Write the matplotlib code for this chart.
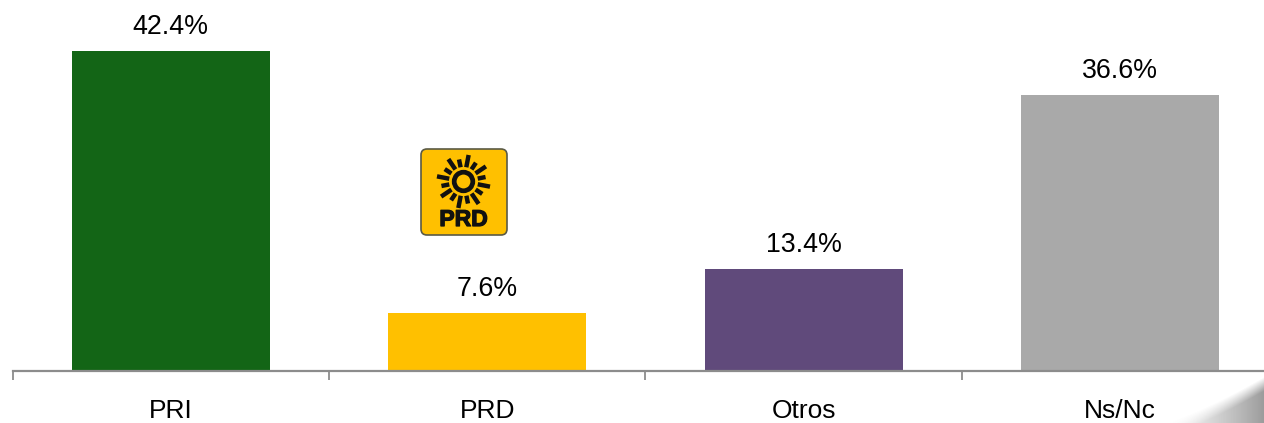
import matplotlib
matplotlib.use('Agg')
import matplotlib.pyplot as plt
import matplotlib.patheffects as pe
import numpy as np
from matplotlib.patches import FancyBboxPatch, Circle

plt.rcParams['font.family'] = ['Liberation Sans', 'DejaVu Sans']

categories = ['PRI', 'PRD', 'Otros', 'Ns/Nc']
values = [42.4, 7.6, 13.4, 36.6]
labels = ['42.4%', '7.6%', '13.4%', '36.6%']
colors = ['#136516', '#FFC000', '#604A7B', '#A9A9A9']

W, H = 1264, 423
fig = plt.figure(figsize=(W / 100, H / 100), dpi=100)

# axis runs off the right edge of the picture, same as the original
ax = fig.add_axes([12.6 / W, (H - 370.5) / H, (W - 12.6) / W, 370.5 / H])
x = np.arange(len(categories))
ax.bar(x, values, width=0.626, color=colors, zorder=2)
for xi, v, lab in zip(x, values, labels):
    ax.annotate(lab, (xi, v), xytext=(0, 11), textcoords='offset pixels',
                ha='center', va='bottom', fontsize=19.3, color='#000000')

ax.set_xlim(-0.5, (W - 12.6) / 316.4 - 0.5)
ax.set_ylim(0, 370.5 / 7.54)
ax.set_yticks([])
ax.set_xticks(np.arange(0, 4) - 0.5)
ax.set_xticklabels([])
ax.set_xticks(x, minor=True)
ax.set_xticklabels(categories, minor=True, fontsize=19, color='#000000')
ax.tick_params(axis='x', which='major', length=6.5, width=1.3, color='#8C8C8C')
ax.tick_params(axis='x', which='minor', length=0, pad=20.5)
for s in ['top', 'left', 'right']:
    ax.spines[s].set_visible(False)
ax.spines['bottom'].set_color('#8C8C8C')
ax.spines['bottom'].set_linewidth(1.6)
ax.spines['bottom'].set_zorder(3)

# overlay in pixel coords for logo and corner decoration
ov = fig.add_axes([0, 0, 1, 1], facecolor='none')
ov.axis('off')

# page curl in the bottom right corner, soft edge
gx, gy = np.meshgrid(np.arange(1150, W) + 0.5, np.arange(360, H) + 0.5)
t = np.clip((gx - 1160) / 104, 0, 1)
edge = H - 46 * t ** 1.3
shade = np.clip((gy - edge) / 14, 0, 1) * t ** 1.3 * 0.6
rgba = np.ones(shade.shape + (4,))
rgba[..., :3] = 0.35
rgba[..., 3] = shade
ov.imshow(rgba, extent=(1150, W, H, 360), aspect='auto', zorder=1, interpolation='bilinear')
ov.set_xlim(0, W)
ov.set_ylim(H, 0)

# PRD logo
ov.add_patch(FancyBboxPatch((426, 154), 76, 76, boxstyle='round,pad=5,rounding_size=6',
                            facecolor='#FFC000', edgecolor='#5A5A46', linewidth=1.2, zorder=4))
cx, cy = 463.5, 181.5
ov.add_patch(Circle((cx, cy), 9.3, facecolor='none', edgecolor='#111111', linewidth=3.4, zorder=5))
n_rays = 16
for i in range(n_rays):
    a = np.deg2rad(i * 360 / n_rays + 11)
    r1, r2 = (14.5, 27) if i % 2 == 0 else (14.5, 22.5)
    ov.plot([cx + r1 * np.cos(a), cx + r2 * np.cos(a)],
            [cy + r1 * np.sin(a), cy + r2 * np.sin(a)],
            color='#111111', linewidth=3.2, solid_capstyle='butt', zorder=5)
ov.text(463.5, 219.5, 'PRD', family=['Liberation Sans Narrow', 'Liberation Sans'],
        fontweight='bold', fontsize=16.5, color='#111111', ha='center', va='center', zorder=5,
        path_effects=[pe.withStroke(linewidth=0.9, foreground='#111111')])

fig.savefig('out.png', dpi=100)
